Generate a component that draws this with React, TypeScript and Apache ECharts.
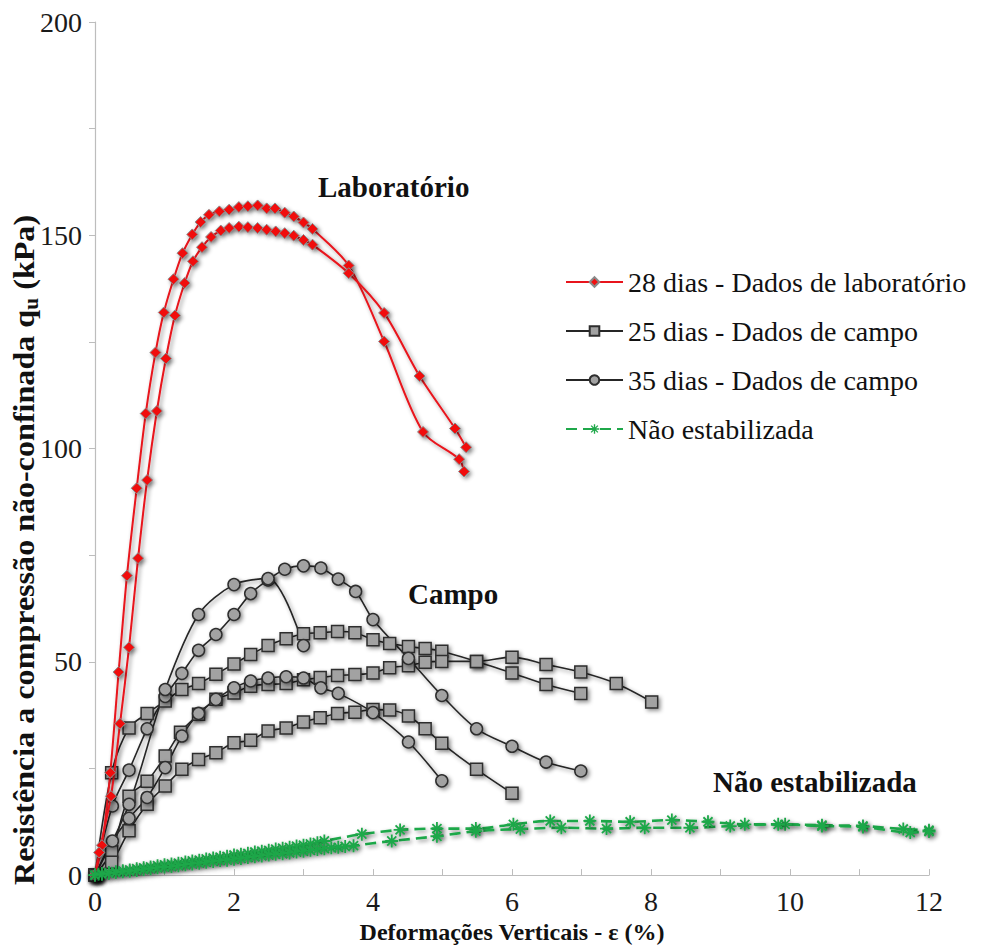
import React, { useEffect, useRef } from "react";
import * as echarts from "echarts";

// ---- Data ----
const xTicks = [0, 2, 4, 6, 8, 10, 12];
const yTicks = [0, 50, 100, 150, 200];

const legendNames = [
  "28 dias - Dados de laboratório",
  "25 dias - Dados de campo",
  "35 dias - Dados de campo",
  "Não estabilizada",
];

const lab28A: number[][] = [
  [0, 0], [0.1, 7], [0.22, 24], [0.34, 47.6], [0.46, 70.2], [0.6, 90.7], [0.73, 108.2], [0.87, 122.5],
  [0.99, 131.9], [1.13, 139.7], [1.26, 145.8], [1.4, 150.2], [1.52, 153.1], [1.64, 154.8], [1.79, 155.6],
  [1.93, 156.0], [2.07, 156.6], [2.2, 156.8], [2.34, 157.0], [2.47, 156.3], [2.59, 156.3], [2.73, 155.3],
  [2.86, 154.4], [3.0, 153.0], [3.13, 151.5], [3.65, 142.9], [4.16, 125.1], [4.72, 103.9], [5.24, 97.5],
  [5.31, 94.6],
];
const lab28B: number[][] = [
  [0, 0], [0.06, 5.3], [0.23, 18.5], [0.36, 35.5], [0.49, 53.4], [0.62, 74.3], [0.75, 92.6], [0.89, 108.8],
  [1.02, 121.1], [1.15, 131.2], [1.29, 138.8], [1.41, 143.9], [1.54, 147.2], [1.67, 149.6], [1.81, 151.1],
  [1.93, 151.7], [2.07, 152.0], [2.2, 151.9], [2.34, 151.7], [2.47, 151.3], [2.6, 150.9], [2.73, 150.5],
  [2.86, 149.9], [3.0, 148.9], [3.13, 147.8], [3.65, 141.1], [4.16, 131.8], [4.67, 117.0], [5.18, 104.7],
  [5.34, 100.3],
];

const campo25A: number[][] = [
  [0, 0], [0.24, 24.0], [0.49, 34.5], [0.75, 37.9], [1.01, 40.8], [1.25, 43.5], [1.49, 44.9], [1.74, 47.1],
  [2.0, 49.5], [2.24, 51.7], [2.49, 53.8], [2.75, 55.4], [3.0, 56.6], [3.24, 56.8], [3.49, 57.1], [3.74, 56.8],
  [4.0, 55.2], [4.24, 54.3], [4.51, 53.6], [4.75, 53.1], [4.99, 52.5], [5.49, 50.1], [6.0, 47.4], [6.49, 44.7],
  [6.99, 42.6],
];
const campo25B: number[][] = [
  [0, 0], [0.24, 5.5], [0.49, 18.5], [0.75, 22.0], [1.01, 27.9], [1.23, 33.5], [1.49, 37.7], [1.74, 41.2],
  [2.0, 42.7], [2.24, 44.3], [2.49, 44.7], [2.75, 44.9], [3.0, 45.8], [3.24, 46.3], [3.49, 46.8], [3.74, 47.0],
  [4.0, 47.4], [4.24, 48.6], [4.51, 49.1], [4.75, 49.9], [4.99, 50.1], [5.49, 50.1], [6.0, 51.1], [6.49, 49.4],
  [6.99, 47.6], [7.5, 44.9], [8.01, 40.6],
];
const campo25C: number[][] = [
  [0, 0], [0.24, 3.0], [0.49, 10.4], [0.75, 16.6], [1.01, 20.9], [1.25, 24.8], [1.49, 27.1], [1.74, 28.7],
  [2.0, 31.0], [2.24, 31.6], [2.49, 33.8], [2.75, 34.5], [3.0, 35.9], [3.24, 36.9], [3.49, 37.9], [3.74, 38.2],
  [4.0, 38.8], [4.24, 38.7], [4.51, 37.3], [4.75, 34.3], [4.99, 30.9], [5.49, 24.8], [6.0, 19.2],
];

const campo35A: number[][] = [
  [0, 0], [0.25, 16.2], [0.49, 24.6], [0.75, 34.3], [1.01, 41.9], [1.25, 47.3], [1.49, 52.7], [1.74, 56.4],
  [2.0, 61.1], [2.24, 66.0], [2.49, 69.2], [2.73, 71.7], [3.0, 72.5], [3.25, 72.0], [3.5, 69.4], [3.75, 66.5],
  [4.0, 59.9], [4.51, 50.8], [4.99, 42.1], [5.49, 34.3], [6.0, 30.2], [6.49, 26.5], [6.99, 24.4],
];
const campo35B: number[][] = [
  [0, 0], [0.49, 16.6], [1.01, 43.5], [1.49, 61.1], [2.0, 68.1], [2.49, 69.5], [3.0, 53.8],
];
const campo35C: number[][] = [
  [0, 0], [0.25, 8.0], [0.49, 13.3], [0.75, 18.2], [1.01, 25.2], [1.25, 32.6], [1.49, 37.9], [1.74, 41.2],
  [2.0, 43.9], [2.24, 45.5], [2.49, 46.2], [2.75, 46.5], [3.0, 46.2], [3.25, 43.9], [3.5, 42.6], [4.0, 38.1],
  [4.51, 31.2], [4.99, 22.1],
];

const naoEstabA: number[][] = [
  [0, 0], [0.05, 0.2], [0.1, 0.4], [0.2, 0.6], [0.3, 0.8], [0.4, 1.0], [0.5, 1.2], [0.6, 1.5], [0.7, 1.7],
  [0.8, 1.9], [0.9, 2.2], [1.0, 2.4], [1.1, 2.6], [1.2, 2.8], [1.3, 3.1], [1.4, 3.3], [1.5, 3.5], [1.6, 3.8],
  [1.7, 4.0], [1.8, 4.2], [1.9, 4.4], [2.0, 4.7], [2.1, 4.9], [2.2, 5.1], [2.3, 5.4], [2.4, 5.6], [2.5, 5.8],
  [2.6, 6.1], [2.7, 6.3], [2.8, 6.5], [2.9, 6.8], [3.0, 7.0], [3.1, 7.3], [3.2, 7.6], [3.3, 8.0],
  [3.84, 9.6], [4.39, 10.6], [4.92, 10.9], [5.48, 10.9], [6.02, 11.9], [6.55, 12.7], [7.12, 12.7],
  [7.7, 12.5], [8.3, 12.9], [8.82, 12.5], [9.35, 11.9], [9.93, 11.9], [10.46, 11.7], [11.05, 11.5],
  [11.63, 10.8], [12.0, 10.5],
];
const naoEstabB: number[][] = [
  [0, 0], [0.1, 0.2], [0.2, 0.4], [0.3, 0.6], [0.4, 0.8], [0.5, 0.9], [0.6, 1.1], [0.7, 1.3], [0.8, 1.5],
  [0.9, 1.7], [1.0, 1.9], [1.1, 2.0], [1.2, 2.2], [1.3, 2.4], [1.4, 2.6], [1.5, 2.8], [1.6, 3.0], [1.7, 3.2],
  [1.8, 3.4], [1.9, 3.5], [2.0, 3.7], [2.1, 3.9], [2.2, 4.1], [2.3, 4.3], [2.4, 4.5], [2.5, 4.7], [2.6, 4.9],
  [2.7, 5.0], [2.8, 5.2], [2.9, 5.4], [3.0, 5.6], [3.1, 5.8], [3.2, 6.0], [3.3, 6.2], [3.4, 6.4], [3.5, 6.5],
  [3.6, 6.7], [3.72, 6.9], [4.27, 8.0], [4.92, 9.1], [5.48, 10.3], [6.12, 10.8], [6.71, 11.1], [7.36, 10.9],
  [7.91, 11.1], [8.56, 11.1], [9.14, 11.5], [9.83, 11.9], [10.46, 11.5], [11.05, 11.3], [11.73, 10.0],
  [12.0, 10.2],
];

const FONT = "Liberation Serif";
const ASTERISK =
  "path://M-0.7,-5 L0.7,-5 L0.7,5 L-0.7,5 Z M-5,-0.7 L5,-0.7 L5,0.7 L-5,0.7 Z M-4,-3 L-3,-4 L4,3 L3,4 Z M-3,4 L-4,3 L3,-4 L4,-3 Z";

const shadow = {
  shadowColor: "rgba(0,0,0,0.45)",
  shadowBlur: 4,
  shadowOffsetX: 2,
  shadowOffsetY: 2,
};

function redSeries(data: number[][]) {
  return {
    type: "line",
    name: legendNames[0],
    data,
    smooth: 0.3,
    symbol: "diamond",
    symbolSize: 11,
    lineStyle: { color: "#e8141c", width: 2, ...shadow },
    itemStyle: { color: "#f01010", borderColor: "#8a8a8a", borderWidth: 1, ...shadow },
    z: 3,
  };
}
function graySeries(data: number[][], idx: number, symbol: string) {
  return {
    type: "line",
    name: legendNames[idx],
    data,
    smooth: 0.3,
    symbol,
    symbolSize: 12,
    lineStyle: { color: "#262626", width: 1.6, ...shadow },
    itemStyle: { color: "#a2a2a2", borderColor: "#2e2e2e", borderWidth: 1.5, ...shadow },
    z: 2,
  };
}
function greenSeries(data: number[][]) {
  return {
    type: "line",
    name: legendNames[3],
    data,
    smooth: 0.3,
    symbol: ASTERISK,
    symbolSize: 13,
    lineStyle: { color: "#1fa84a", width: 2.6, type: [11, 6], ...shadow },
    itemStyle: { color: "#1fa84a", ...shadow },
    z: 4,
  };
}

export default function App() {
  const ref = useRef<HTMLDivElement>(null);
  useEffect(() => {
    if (!ref.current) return;
    const chart = echarts.init(ref.current, undefined, { renderer: "svg" });
    chart.setOption({
      animation: false,
      backgroundColor: "#ffffff",
      textStyle: { fontFamily: FONT },
      grid: { left: 87, right: 54, top: 13, bottom: 73, containLabel: false },
      xAxis: {
        type: "value",
        min: 0,
        max: 12,
        interval: 1,
        name: "Deformações Verticais - ε (%)",
        nameLocation: "middle",
        nameGap: 44,
        nameTextStyle: { fontFamily: FONT, fontWeight: "bold", fontSize: 24, color: "#111" },
        axisLine: { show: true, lineStyle: { color: "#bdbdbd", width: 1.2 } },
        axisTick: { show: true, inside: true, length: 6, lineStyle: { color: "#bdbdbd" } },
        axisLabel: {
          fontFamily: FONT,
          fontSize: 28,
          color: "#1a1a1a",
          margin: 12,
          formatter: (v: number) => (xTicks.includes(v) ? String(v) : ""),
        },
        splitLine: { show: false },
      },
      yAxis: {
        type: "value",
        min: 0,
        max: 200,
        interval: 25,
        axisLine: { show: true, lineStyle: { color: "#bdbdbd", width: 1.2 } },
        axisTick: { show: true, inside: false, length: 6, lineStyle: { color: "#bdbdbd" } },
        axisLabel: {
          fontFamily: FONT,
          fontSize: 28,
          color: "#1a1a1a",
          margin: 13,
          formatter: (v: number) => (yTicks.includes(v) ? String(v) : ""),
        },
        splitLine: { show: false },
      },
      legend: {
        orient: "vertical",
        left: 552,
        top: 255,
        itemWidth: 57,
        itemHeight: 12,
        itemGap: 21,
        data: legendNames,
        textStyle: { fontFamily: FONT, fontSize: 28, color: "#111" },
      },
      graphic: [
        {
          type: "text",
          x: 16,
          y: 542,
          rotation: Math.PI / 2,
          scaleX: 1.07,
          style: {
            text: "{b|Resistência a compressão não-confinada q}{s|u}{b| (kPa)}",
            textAlign: "center",
            textVerticalAlign: "middle",
            fill: "#111",
            rich: {
              b: { fontFamily: FONT, fontWeight: "bold", fontSize: 30, lineHeight: 34, fill: "#111" },
              s: { fontFamily: FONT, fontWeight: "bold", fontSize: 20, lineHeight: 15, verticalAlign: "bottom", fill: "#111" },
            },
          },
        },
        {
          type: "text",
          left: 310,
          top: 164,
          style: { text: "Laboratório", fontFamily: FONT, fontWeight: "bold", fontSize: 29, fill: "#111" },
        },
        {
          type: "text",
          left: 400,
          top: 571,
          style: { text: "Campo", fontFamily: FONT, fontWeight: "bold", fontSize: 29, fill: "#111" },
        },
        {
          type: "text",
          left: 705,
          top: 759,
          style: { text: "Não estabilizada", fontFamily: FONT, fontWeight: "bold", fontSize: 29, fill: "#111" },
        },
      ],
      series: [
        graySeries(campo25A, 1, "rect"),
        graySeries(campo25B, 1, "rect"),
        graySeries(campo25C, 1, "rect"),
        graySeries(campo35A, 2, "circle"),
        graySeries(campo35B, 2, "circle"),
        graySeries(campo35C, 2, "circle"),
        redSeries(lab28A),
        redSeries(lab28B),
        greenSeries(naoEstabA),
        greenSeries(naoEstabB),
      ],
    });
    return () => chart.dispose();
  }, []);
  return <div ref={ref} style={{ width: 975, height: 941 }} />;
}
